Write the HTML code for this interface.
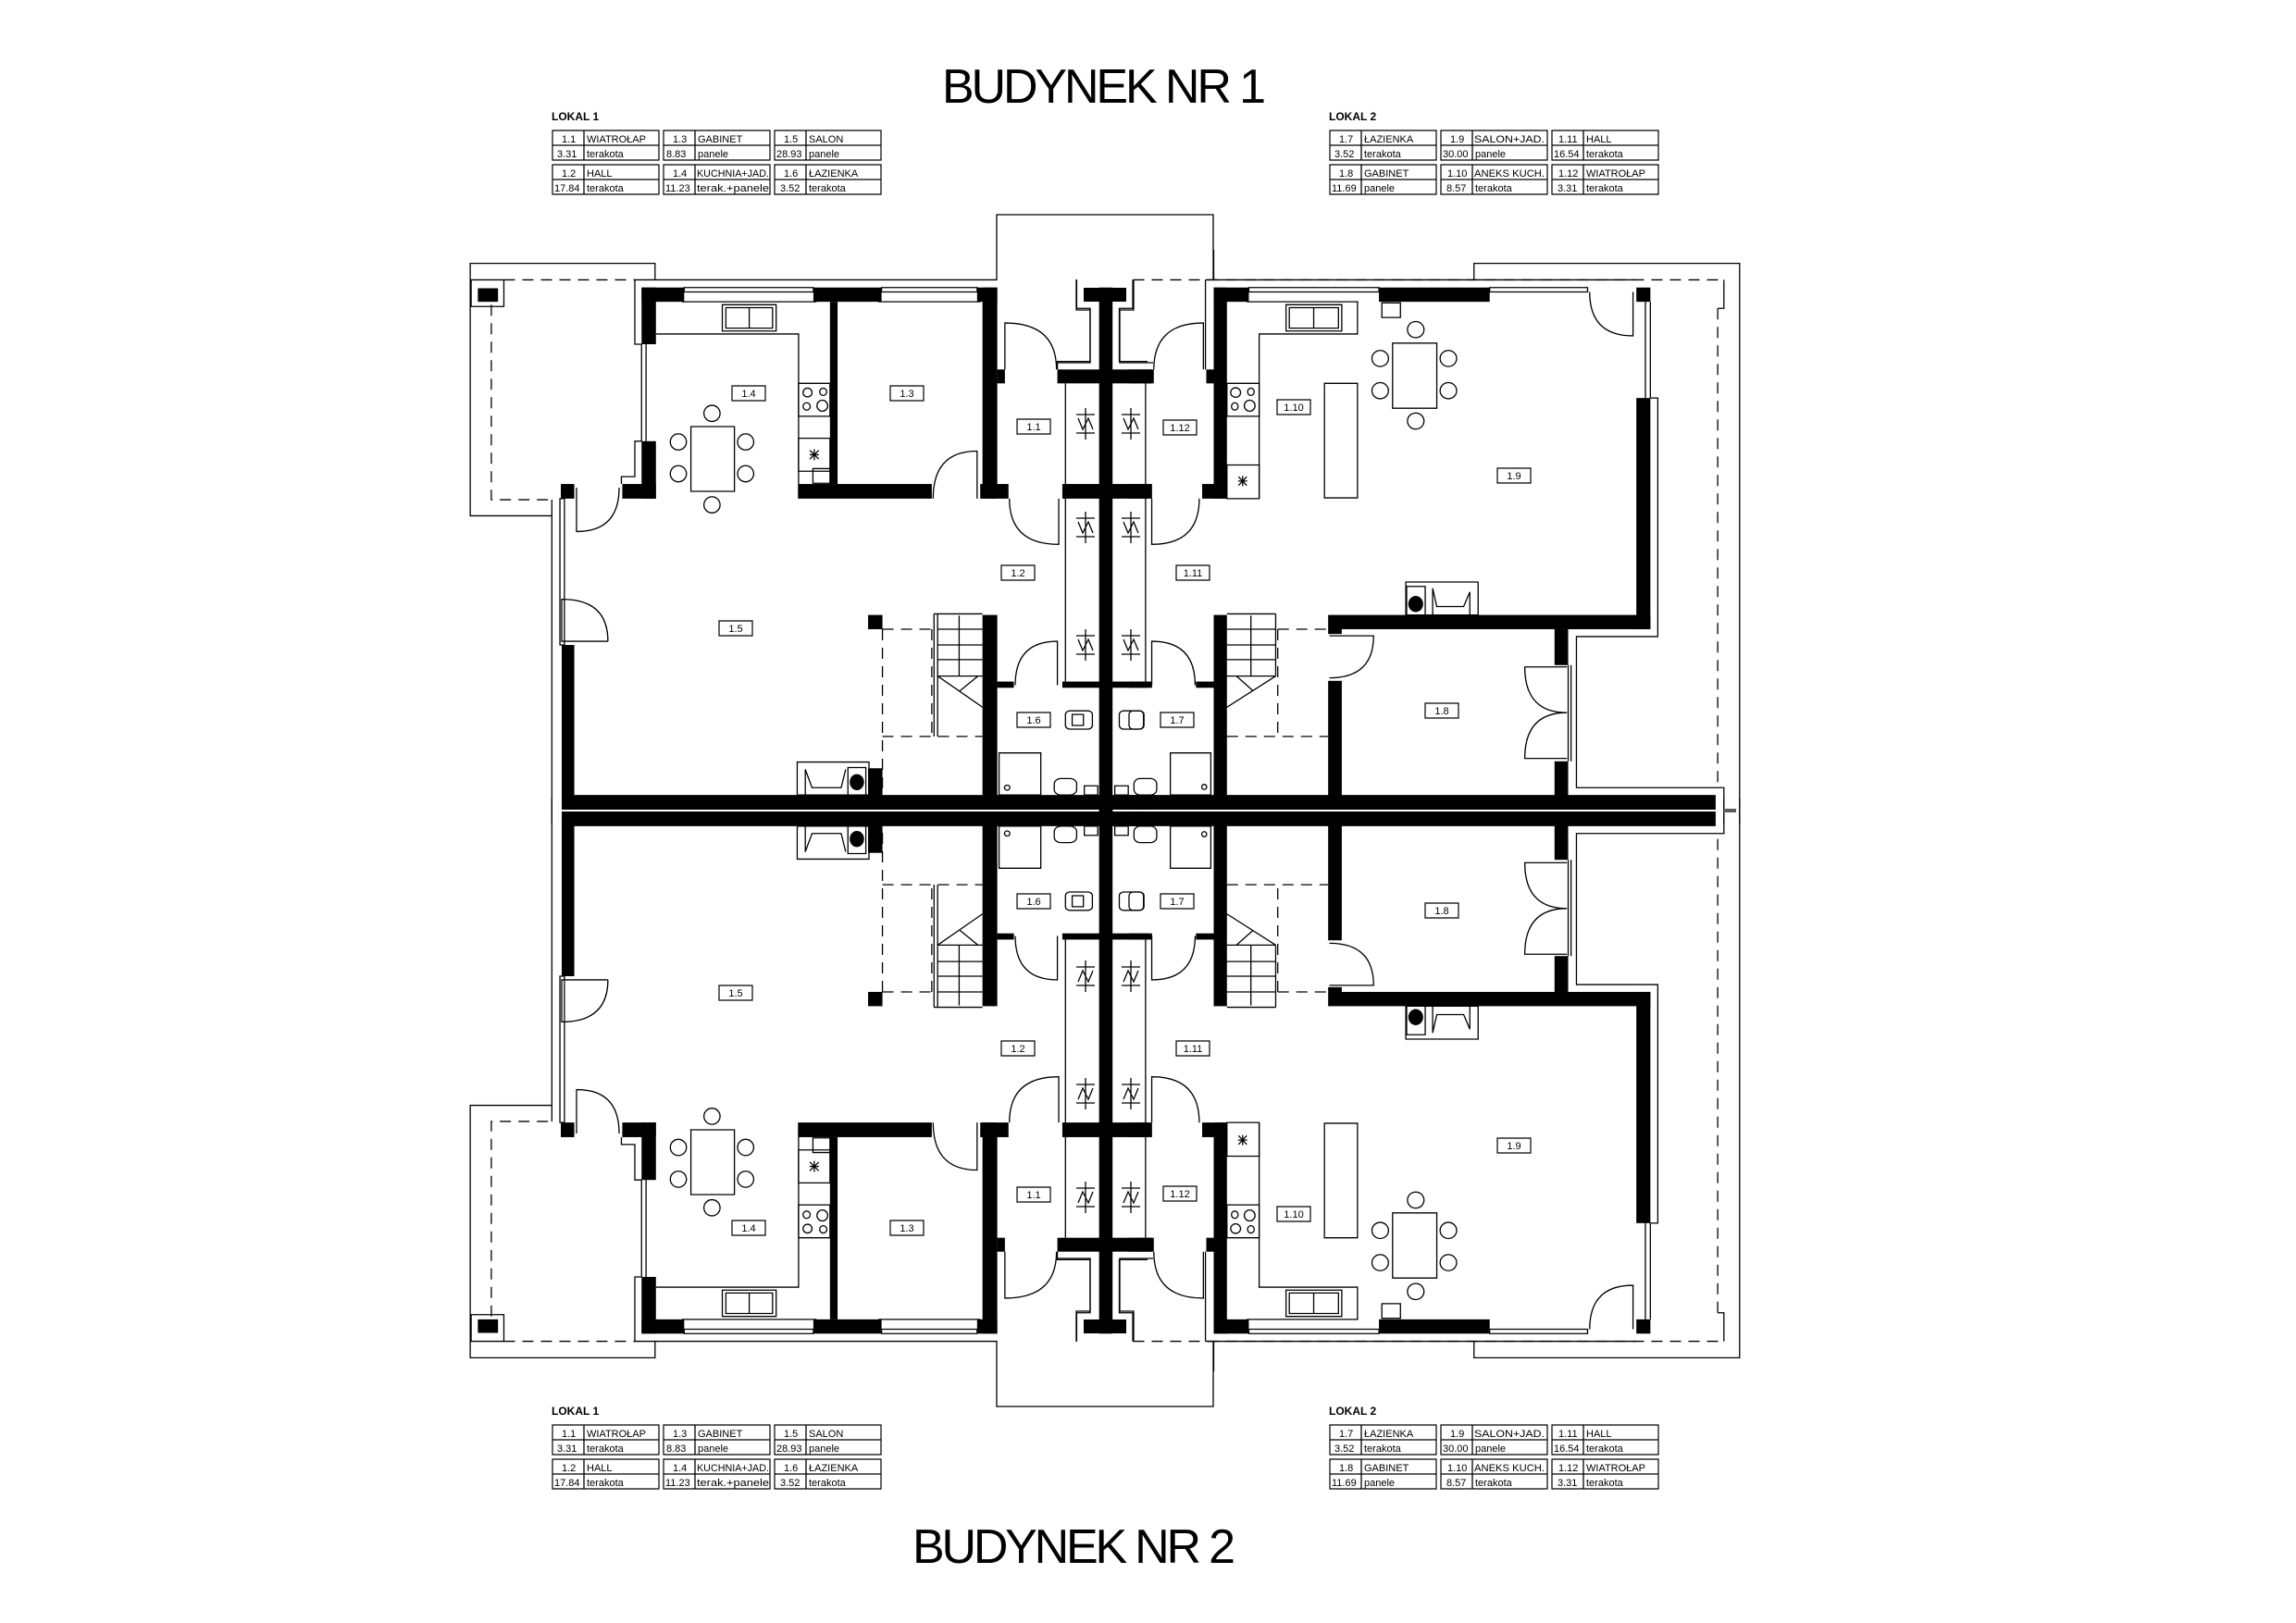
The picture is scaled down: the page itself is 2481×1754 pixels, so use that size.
<!DOCTYPE html>
<html><head><meta charset="utf-8"><style>
html,body{margin:0;padding:0;background:#fff;}
svg{display:block;}
svg *{vector-effect:non-scaling-stroke;}
.t{fill:none;stroke:#000;stroke-width:1.3;}
.d{fill:none;stroke:#000;stroke-width:1.3;stroke-dasharray:12 8;}
.w{fill:#000;}
.lb{fill:#fff;stroke:#000;stroke-width:1.2;}
text{font-family:"Liberation Sans",sans-serif;fill:#000;}
.rl{font-size:11px;text-anchor:middle;}
</style></head><body>
<svg width="2481" height="1754" viewBox="0 0 2481 1754" xmlns="http://www.w3.org/2000/svg">
<defs>
<g id="top">
 <polyline class="t" points="1077,302 1077,232 1311,232 1311,302"/>
 <rect class="w" x="1171" y="311" width="46" height="15"/>
 <polyline class="t" points="1163,302 1163,335 1178,335 1178,392 1141,392"/>
 <polyline class="t" points="1225,302 1225,335 1210,335 1210,392 1246,392"/>
 <g transform="translate(480,270) scale(0.4847,0.3954)">
  <rect class="w" x="440" y="103" width="95" height="39"/>
  <rect class="w" x="440" y="103" width="32" height="155"/>
  <rect class="w" x="440" y="523" width="32" height="157"/>
  <rect class="w" x="397" y="640" width="75" height="40"/>
  <rect class="w" x="260" y="640" width="30" height="40"/>
  <rect class="w" x="823" y="103" width="152" height="39"/>
  <rect class="w" x="860" y="142" width="17" height="498"/>
  <rect class="w" x="790" y="640" width="297" height="40"/>
  <rect class="w" x="1188" y="103" width="45" height="39"/>
  <rect class="w" x="1200" y="103" width="33" height="577"/>
  <rect class="w" x="1195" y="640" width="63" height="40"/>
  <rect class="w" x="1233" y="327" width="17" height="38"/>
  <rect class="w" x="1367" y="327" width="210" height="38"/>
  <rect class="w" x="1378" y="640" width="200" height="40"/>
  <rect class="w" x="1378" y="1180" width="200" height="17"/>
  <rect class="w" x="1460" y="103" width="30" height="1440"/>
  <rect class="w" x="1200" y="998" width="33" height="520"/>
  <rect class="w" x="1233" y="1180" width="37" height="17"/>
  <rect class="w" x="945" y="998" width="32" height="39"/>
  <rect class="w" x="945" y="1417" width="32" height="90"/>
  <rect class="w" x="262" y="1080" width="28" height="450"/>
  <rect class="w" x="262" y="1490" width="1316" height="40"/>
  <rect class="w" x="75" y="105" width="45" height="37"/>
  <polyline class="t" points="240,727 58,727 58,37 470,37 470,82"/>
  <polyline class="d" points="105,150 105,683 240,683"/>
  <line class="d" x1="133" y1="82" x2="425" y2="82"/>
  <rect class="t" x="60" y="82" width="73" height="73"/>
  <polyline class="t" points="440,258 425,258 425,82 1233,82"/>
  <line class="t" x1="440" y1="258" x2="440" y2="523"/><line class="t" x1="450" y1="258" x2="450" y2="523"/>
  <polyline class="t" points="440,523 425,523 425,620 395,620 395,640"/>
  <line class="t" x1="240" y1="683" x2="240" y2="1568"/>
  <rect class="t" x="258" y="680" width="10" height="400"/>
  <rect class="t" x="535" y="103" width="288" height="12"/><line class="t" x1="530" y1="142" x2="830" y2="142"/>
  <rect class="t" x="975" y="103" width="213" height="12"/><line class="t" x1="968" y1="142" x2="1195" y2="142"/>
  <polyline class="t" points="472,230 790,230 790,680"/>
  <rect class="t" x="620" y="150" width="120" height="72"/><rect class="t" x="628" y="158" width="104" height="56"/><line class="t" x1="680" y1="158" x2="680" y2="214"/>
  <rect class="t" x="790" y="365" width="70" height="90"/>
  <ellipse class="t" cx="810" cy="390" rx="10" ry="12"/><ellipse class="t" cx="845" cy="388" rx="8" ry="10"/><ellipse class="t" cx="808" cy="428" rx="8" ry="10"/><ellipse class="t" cx="843" cy="426" rx="12" ry="15"/>
  <rect class="t" x="790" y="515" width="70" height="90"/>
  <path class="t" d="M815,560 L835,560 M825,545 L825,575 M815,548 L835,572 M835,548 L815,572"/>
  <rect class="t" x="822" y="598" width="38" height="40"/>
  <rect class="t" x="550" y="483" width="97" height="177"/>
  <ellipse class="t" cx="597" cy="447" rx="18" ry="22"/><ellipse class="t" cx="522" cy="525" rx="18" ry="22"/><ellipse class="t" cx="672" cy="525" rx="18" ry="22"/>
  <ellipse class="t" cx="522" cy="612" rx="18" ry="22"/><ellipse class="t" cx="672" cy="612" rx="18" ry="22"/><ellipse class="t" cx="597" cy="697" rx="18" ry="22"/>
  <path class="t" d="M1188,680 L1188,550 Q1090,550 1090,680"/>
  <path class="t" d="M1250,327 L1250,200 Q1365,200 1365,327"/>
  <path class="t" d="M1370,680 L1370,805 Q1260,805 1260,680"/>
  <path class="t" d="M295,650 L295,770 Q390,770 390,650"/>
  <path class="t" d="M365,1070 L262,1070 L262,955 Q365,955 365,1070"/>
  <path class="t" d="M1367,1190 L1367,1070 Q1273,1070 1273,1190"/>
  <line class="t" x1="1092" y1="995" x2="1092" y2="1330"/><line class="t" x1="1100" y1="995" x2="1100" y2="1330"/>
  <line class="t" x1="1092" y1="995" x2="1200" y2="995"/>
  <path class="t" d="M1100,1037 H1200 M1100,1080 H1200 M1100,1120 H1200 M1100,1165 H1200 M1100,1165 L1200,1250 M1150,1205 L1190,1165 M1148,1000 V1165"/>
  <polyline class="d" points="977,1037 1087,1037"/><line class="d" x1="977" y1="1037" x2="977" y2="1490"/><line class="d" x1="977" y1="1330" x2="1200" y2="1330"/><line class="d" x1="1087" y1="1037" x2="1087" y2="1330"/>
  <line class="t" x1="1385" y1="365" x2="1385" y2="1190"/>
  <rect class="t" x="787" y="1400" width="160" height="90"/>
  <polyline class="t" points="805,1490 805,1420 820,1470 885,1470 895,1420"/>
  <rect class="t" x="900" y="1415" width="40" height="75"/><ellipse class="w" cx="920" cy="1455" rx="16" ry="22"/>
  <rect class="t" x="1237" y="1375" width="93" height="115"/><ellipse class="t" cx="1255" cy="1470" rx="6" ry="7"/>
  <rect class="t" x="1360" y="1445" width="50" height="45" rx="15"/>
  <rect class="t" x="1385" y="1260" width="60" height="50" rx="10"/><rect class="t" x="1400" y="1270" width="25" height="30"/>
  <rect class="t" x="1505" y="1260" width="55" height="50" rx="10"/>
  <rect class="t" x="1427" y="1465" width="30" height="25"/><rect class="t" x="1495" y="1465" width="30" height="25"/>
  <polyline class="t" points="1410,82 1410,160 1440,160 1440,305 1367,305 1367,327"/>
  <polyline class="t" points="1535,82 1535,160 1505,160 1505,305 1568,305"/>
 </g>
 <g transform="translate(1220,270) scale(0.4464,0.3954)">
  <rect class="w" x="0" y="327" width="60" height="38"/>
  <rect class="w" x="0" y="640" width="45" height="40"/>
  <rect class="w" x="0" y="1180" width="45" height="17"/>
  <rect class="w" x="205" y="103" width="85" height="39"/>
  <rect class="w" x="205" y="103" width="32" height="577"/>
  <rect class="w" x="177" y="640" width="60" height="40"/>
  <rect class="w" x="187" y="327" width="18" height="38"/>
  <rect class="w" x="605" y="103" width="268" height="39"/>
  <rect class="w" x="1228" y="103" width="34" height="39"/>
  <rect class="w" x="1228" y="405" width="34" height="632"/>
  <rect class="w" x="482" y="998" width="780" height="39"/>
  <rect class="w" x="482" y="1037" width="33" height="13"/>
  <rect class="w" x="482" y="1178" width="33" height="320"/>
  <rect class="w" x="1030" y="1037" width="33" height="98"/>
  <rect class="w" x="1030" y="1398" width="33" height="100"/>
  <rect class="w" x="205" y="998" width="32" height="500"/>
  <rect class="w" x="162" y="1180" width="43" height="17"/>
  <rect class="w" x="0" y="1490" width="1420" height="40"/>
  <polyline class="t" points="835,82 835,37 1478,37 1478,1568"/>
  <line class="d" x1="10" y1="82" x2="1440" y2="82"/>
  <line class="d" x1="1425" y1="160" x2="1425" y2="1470"/>
  <polyline class="t" points="1440,82 1440,160 1425,160"/>
  <polyline class="t" points="1262,405 1280,405 1280,1057 1083,1057 1083,1470 1440,1470 1440,1568"/>
  <line class="t" x1="1250" y1="142" x2="1250" y2="405"/><line class="t" x1="1262" y1="142" x2="1262" y2="405"/>
  <line class="t" x1="205" y1="0" x2="205" y2="82"/>
  <polyline class="t" points="185,82 185,327"/>
  <polyline class="t" points="185,82 1228,82"/>
  <rect class="t" x="290" y="103" width="315" height="12"/><line class="t" x1="285" y1="142" x2="555" y2="142"/>
  <rect class="t" x="873" y="103" width="237" height="12"/>
  <polyline class="t" points="553,142 553,230 315,230 315,680"/>
  <rect class="t" x="380" y="150" width="135" height="72"/><rect class="t" x="388" y="158" width="119" height="56"/><line class="t" x1="447" y1="158" x2="447" y2="214"/>
  <rect class="t" x="237" y="365" width="78" height="90"/>
  <ellipse class="t" cx="258" cy="390" rx="12" ry="13"/><ellipse class="t" cx="295" cy="388" rx="8" ry="10"/><ellipse class="t" cx="256" cy="428" rx="8" ry="10"/><ellipse class="t" cx="292" cy="426" rx="13" ry="15"/>
  <rect class="t" x="237" y="588" width="78" height="92"/>
  <path class="t" d="M264,632 L286,632 M275,618 L275,646 M265,620 L285,644 M285,620 L265,644"/>
  <rect class="t" x="473" y="365" width="80" height="313"/>
  <rect class="t" x="612" y="145" width="45" height="40"/>
  <rect class="t" x="638" y="255" width="107" height="178"/>
  <ellipse class="t" cx="694" cy="218" rx="20" ry="22"/><ellipse class="t" cx="608" cy="297" rx="20" ry="22"/><ellipse class="t" cx="773" cy="297" rx="20" ry="22"/>
  <ellipse class="t" cx="608" cy="385" rx="20" ry="22"/><ellipse class="t" cx="773" cy="385" rx="20" ry="22"/><ellipse class="t" cx="694" cy="468" rx="20" ry="22"/>
  <path class="t" d="M180,327 L180,200 Q60,200 60,327"/>
  <path class="t" d="M55,680 L55,805 Q170,805 170,680"/>
  <path class="t" d="M55,1190 L55,1070 Q160,1070 160,1190"/>
  <path class="t" d="M485,1055 L592,1055 Q592,1170 485,1170"/>
  <path class="t" d="M1060,1140 L958,1140 Q958,1265 1060,1265 M1060,1390 L958,1390 Q958,1265 1060,1265"/>
  <line class="t" x1="1063" y1="1135" x2="1063" y2="1398"/><line class="t" x1="1070" y1="1135" x2="1070" y2="1398"/>
  <path class="t" d="M1220,115 L1220,235 Q1115,235 1115,115"/>
  <line class="t" x1="237" y1="995" x2="355" y2="995"/><line class="t" x1="355" y1="995" x2="355" y2="1165"/>
  <path class="t" d="M237,1037 H355 M237,1080 H355 M237,1120 H355 M237,1165 H355 M355,1165 L237,1250 M260,1165 L300,1205 M295,1000 V1165"/>
  <polyline class="d" points="360,1037 482,1037"/><line class="d" x1="360" y1="1037" x2="360" y2="1330"/><line class="d" x1="237" y1="1330" x2="482" y2="1330"/>
  <line class="t" x1="40" y1="365" x2="40" y2="1190"/>
  <rect class="t" x="670" y="908" width="175" height="90"/>
  <polyline class="t" points="735,998 735,925 745,975 810,975 825,935 825,998"/>
  <rect class="t" x="672" y="920" width="45" height="78"/><ellipse class="w" cx="694" cy="968" rx="18" ry="22"/>
  <rect class="t" x="100" y="1375" width="98" height="115"/><ellipse class="t" cx="182" cy="1468" rx="6" ry="7"/>
  <rect class="t" x="12" y="1445" width="55" height="45" rx="15"/>
  <rect class="t" x="0" y="1260" width="35" height="50" rx="10"/>
 </g>
 <g>
  <path class="t" d="M1173,441 V475 M1163,448 H1183 M1163,468 H1183 M1165,452 L1170,464 L1176,452 L1181,464"/>
  <path class="t" d="M1222,441 V475 M1212,448 H1232 M1212,468 H1232 M1214,452 L1219,464 L1225,452 L1230,464"/>
  <path class="t" d="M1173,553 V587 M1163,560 H1183 M1163,580 H1183 M1165,564 L1170,576 L1176,564 L1181,576"/>
  <path class="t" d="M1222,553 V587 M1212,560 H1232 M1212,580 H1232 M1214,564 L1219,576 L1225,564 L1230,576"/>
  <path class="t" d="M1173,680 V714 M1163,687 H1183 M1163,707 H1183 M1165,691 L1170,703 L1176,691 L1181,703"/>
  <path class="t" d="M1222,680 V714 M1212,687 H1232 M1212,707 H1232 M1214,691 L1219,703 L1225,691 L1230,703"/>
 </g>
 <line class="t" x1="1864" y1="877" x2="1876" y2="877"/>
</g>
</defs>
<use href="#top"/>
<g transform="translate(0,1752) scale(1,-1)"><use href="#top"/></g>

<g>
 <rect class="lb" x="791" y="417" width="36" height="16"/><text class="rl" x="809" y="429">1.4</text>
 <rect class="lb" x="962" y="417" width="36" height="16"/><text class="rl" x="980" y="429">1.3</text>
 <rect class="lb" x="1099" y="453" width="36" height="16"/><text class="rl" x="1117" y="465">1.1</text>
 <rect class="lb" x="1082" y="611" width="36" height="16"/><text class="rl" x="1100" y="623">1.2</text>
 <rect class="lb" x="777" y="671" width="36" height="16"/><text class="rl" x="795" y="683">1.5</text>
 <rect class="lb" x="1099" y="770" width="36" height="16"/><text class="rl" x="1117" y="782">1.6</text>
 <rect class="lb" x="1257" y="454" width="36" height="16"/><text class="rl" x="1275" y="466">1.12</text>
 <rect class="lb" x="1380" y="432" width="36" height="16"/><text class="rl" x="1398" y="444">1.10</text>
 <rect class="lb" x="1618" y="506" width="36" height="16"/><text class="rl" x="1636" y="518">1.9</text>
 <rect class="lb" x="1271" y="611" width="36" height="16"/><text class="rl" x="1289" y="623">1.11</text>
 <rect class="lb" x="1540" y="760" width="36" height="16"/><text class="rl" x="1558" y="772">1.8</text>
 <rect class="lb" x="1254" y="770" width="36" height="16"/><text class="rl" x="1272" y="782">1.7</text>
</g>
<g>
 <rect class="lb" x="791" y="1319" width="36" height="16"/><text class="rl" x="809" y="1331">1.4</text>
 <rect class="lb" x="962" y="1319" width="36" height="16"/><text class="rl" x="980" y="1331">1.3</text>
 <rect class="lb" x="1099" y="1283" width="36" height="16"/><text class="rl" x="1117" y="1295">1.1</text>
 <rect class="lb" x="1082" y="1125" width="36" height="16"/><text class="rl" x="1100" y="1137">1.2</text>
 <rect class="lb" x="777" y="1065" width="36" height="16"/><text class="rl" x="795" y="1077">1.5</text>
 <rect class="lb" x="1099" y="966" width="36" height="16"/><text class="rl" x="1117" y="978">1.6</text>
 <rect class="lb" x="1257" y="1282" width="36" height="16"/><text class="rl" x="1275" y="1294">1.12</text>
 <rect class="lb" x="1380" y="1304" width="36" height="16"/><text class="rl" x="1398" y="1316">1.10</text>
 <rect class="lb" x="1618" y="1230" width="36" height="16"/><text class="rl" x="1636" y="1242">1.9</text>
 <rect class="lb" x="1271" y="1125" width="36" height="16"/><text class="rl" x="1289" y="1137">1.11</text>
 <rect class="lb" x="1540" y="976" width="36" height="16"/><text class="rl" x="1558" y="988">1.8</text>
 <rect class="lb" x="1254" y="966" width="36" height="16"/><text class="rl" x="1272" y="978">1.7</text>
</g>

<text x="1018" y="111" font-size="52" textLength="350" lengthAdjust="spacing">BUDYNEK NR 1</text>
<text x="986" y="1689" font-size="52" textLength="349" lengthAdjust="spacing">BUDYNEK NR 2</text>

<defs>
<g id="cellbox">
 <rect class="t" x="0" y="0" width="115" height="32" style="stroke-width:1.2"/>
 <line class="t" x1="0" y1="16" x2="115" y2="16"/>
 <line class="t" x1="34" y1="0" x2="34" y2="32"/>
</g>
</defs>
<g id="tabs">
<g transform="translate(597,141)">
 <text x="-1" y="-11" style="font-size:12px;font-weight:bold">LOKAL 1</text>
 <use href="#cellbox"/><use href="#cellbox" x="120"/><use href="#cellbox" x="240"/>
 <use href="#cellbox" y="37"/><use href="#cellbox" x="120" y="37"/><use href="#cellbox" x="240" y="37"/>
 <g style="font-size:11px">
 <text x="10" y="13">1.1</text><text x="37" y="13">WIATROŁAP</text><text x="5" y="29">3.31</text><text x="37" y="29">terakota</text>
 <text x="130" y="13">1.3</text><text x="157" y="13">GABINET</text><text x="123" y="29">8.83</text><text x="157" y="29">panele</text>
 <text x="250" y="13">1.5</text><text x="277" y="13">SALON</text><text x="242" y="29">28.93</text><text x="277" y="29">panele</text>
 <text x="10" y="50">1.2</text><text x="37" y="50">HALL</text><text x="2" y="66">17.84</text><text x="37" y="66">terakota</text>
 <text x="130" y="50">1.4</text><text x="156" y="50" textLength="78" lengthAdjust="spacingAndGlyphs">KUCHNIA+JAD.</text><text x="122" y="66">11.23</text><text x="156" y="66" textLength="78" lengthAdjust="spacingAndGlyphs">terak.+panele</text>
 <text x="250" y="50">1.6</text><text x="277" y="50">ŁAZIENKA</text><text x="246" y="66">3.52</text><text x="277" y="66">terakota</text>
 </g>
</g>
<g transform="translate(1437,141)">
 <text x="-1" y="-11" style="font-size:12px;font-weight:bold">LOKAL 2</text>
 <use href="#cellbox"/><use href="#cellbox" x="120"/><use href="#cellbox" x="240"/>
 <use href="#cellbox" y="37"/><use href="#cellbox" x="120" y="37"/><use href="#cellbox" x="240" y="37"/>
 <g style="font-size:11px">
 <text x="10" y="13">1.7</text><text x="37" y="13">ŁAZIENKA</text><text x="5" y="29">3.52</text><text x="37" y="29">terakota</text>
 <text x="130" y="13">1.9</text><text x="156" y="13" textLength="76" lengthAdjust="spacingAndGlyphs">SALON+JAD.</text><text x="122" y="29">30.00</text><text x="157" y="29">panele</text>
 <text x="247" y="13">1.11</text><text x="277" y="13">HALL</text><text x="242" y="29">16.54</text><text x="277" y="29">terakota</text>
 <text x="10" y="50">1.8</text><text x="37" y="50">GABINET</text><text x="2" y="66">11.69</text><text x="37" y="66">panele</text>
 <text x="127" y="50">1.10</text><text x="156" y="50" textLength="76" lengthAdjust="spacingAndGlyphs">ANEKS KUCH.</text><text x="126" y="66">8.57</text><text x="157" y="66">terakota</text>
 <text x="247" y="50">1.12</text><text x="277" y="50">WIATROŁAP</text><text x="246" y="66">3.31</text><text x="277" y="66">terakota</text>
 </g>
</g>
</g>
<use href="#tabs" y="1399"/>
</svg>
</body></html>
